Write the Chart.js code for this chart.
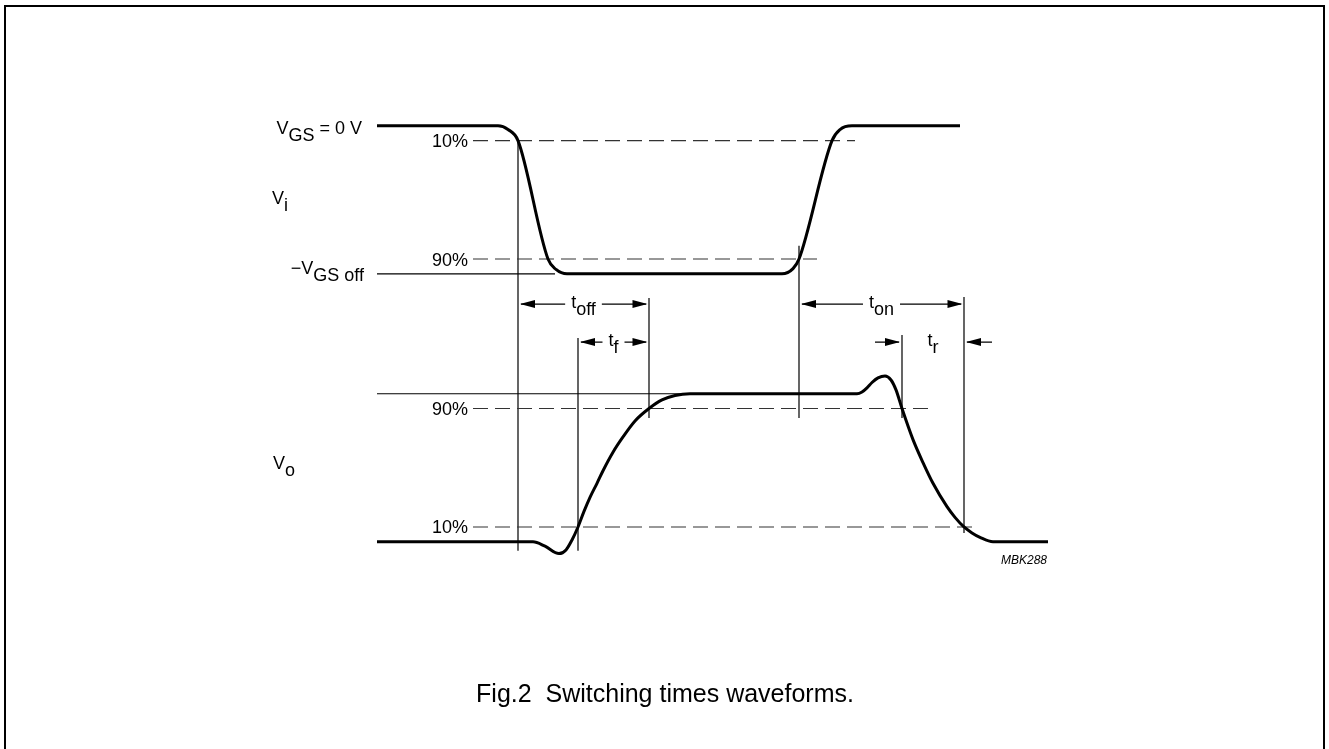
<!DOCTYPE html>
<html>
<head>
<meta charset="utf-8">
<title>Switching times waveforms</title>
<script src="https://cdn.jsdelivr.net/npm/chart.js@4.4.1/dist/chart.umd.min.js"></script>
<style>
    html, body { margin: 0; padding: 0; background: #fff; }
    #wrap { width: 1329px; height: 749px; }
</style>
</head>
<body>
<div id="wrap"><canvas id="myChart" width="1329" height="749"></canvas></div>
<script>
// time axis (arbitrary units) and level axis (fraction of swing)
const X_MIN = -38, X_MAX = 94.9;
const Y_MIN = -1.4, Y_MAX = 3.66;
const VI_OFFSET = 1.81;   // V_i trace sits above V_o

// input V_i : 1 = V_GS = 0 V, 0 = -V_GS off
const viTime  = [-0.3, 11.8, 12.8, 13.8, 16.8, 17.6, 18.7, 40.2, 41.3, 41.9, 45.2, 46.0, 47.2, 58.0];
const viLevel = [1, 1, 0.975, 0.9, 0.1, 0.03, 0, 0, 0.035, 0.1, 0.9, 0.975, 1, 1];

// output V_o : 0 = low, 1 = high
const voTime  = [-0.3, 15.3, 16.5, 17.9, 18.6, 19.2, 19.8, 20.4, 21.0, 21.7, 22.3, 23.3, 24.3,
                 25.5, 26.9, 28.2, 29.5, 31.0,
                 47.7, 48.2, 48.7, 49.2, 49.8, 50.5, 51.1, 51.6, 52.2,
                 53.3, 54.3, 55.3, 56.7, 57.5, 58.4, 59.2, 60.0, 61.3, 66.8];
const voLevel = [0, 0, -0.03, -0.08, -0.055, 0.012, 0.1, 0.205, 0.3, 0.395, 0.48, 0.605, 0.708,
                 0.816, 0.9, 0.958, 0.988, 1,
                 1, 1.012, 1.04, 1.076, 1.107, 1.12, 1.093, 1.026, 0.9,
                 0.69, 0.535, 0.395, 0.237, 0.165, 0.1, 0.06, 0.03, 0, 0];

// switching instants
const tOffStart = 13.8, tFStart = 19.8, tOffEnd = 26.9;
const tOnStart = 41.9, tRStart = 52.2, tOnEnd = 58.4;

const FONT = '"Liberation Sans", Arial, Helvetica, sans-serif';
const toXY = (ts, ls, off) => ts.map((t, i) => ({ x: t, y: ls[i] + off }));

const seg = (x0, y0, x1, y1, dashed) => ({
    data: [{ x: x0, y: y0 }, { x: x1, y: y1 }],
    showLine: true,
    borderColor: dashed ? "#333" : "#000",
    borderWidth: dashed ? 1.1 : 1.2,
    borderDash: dashed ? [15, 7] : [],
    pointRadius: 0,
    tension: 0
});

const datasets = [
    {
        data: toXY(viTime, viLevel, VI_OFFSET),
        showLine: true, borderColor: "#000", borderWidth: 3,
        pointRadius: 0, cubicInterpolationMode: "monotone"
    },
    {
        data: toXY(voTime, voLevel, 0),
        showLine: true, borderColor: "#000", borderWidth: 3,
        pointRadius: 0, cubicInterpolationMode: "monotone"
    },
    // 10 % / 90 % levels
    seg(9.3, VI_OFFSET + 0.9, 47.5, VI_OFFSET + 0.9, true),
    seg(9.3, VI_OFFSET + 0.1, 43.7, VI_OFFSET + 0.1, true),
    seg(9.3, 0.9, 54.8, 0.9, true),
    seg(9.3, 0.1, 59.3, 0.1, true),
    // reference levels
    seg(-0.3, VI_OFFSET, 17.5, VI_OFFSET),
    seg(-0.3, 1, 30.3, 1),
    // timing markers
    seg(tOffStart, VI_OFFSET + 0.9, tOffStart, -0.06),
    seg(tFStart, 1.377, tFStart, -0.06),
    seg(tOffEnd, 1.647, tOffEnd, 0.836),
    seg(tOnStart, 2.0, tOnStart, 0.836),
    seg(tRStart, 1.397, tRStart, 0.836),
    seg(tOnEnd, 1.654, tOnEnd, 0.059)
];

const ARROW_HI = 1.606, ARROW_LO = 1.349;
const measures = [
    { a: tOffStart, b: tOffEnd, y: ARROW_HI, main: "t", sub: "off" },
    { a: tFStart, b: tOffEnd, y: ARROW_LO, main: "t", sub: "f" },
    { a: tOnStart, b: tOnEnd, y: ARROW_HI, main: "t", sub: "on" },
    { a: tRStart, b: tOnEnd, y: ARROW_LO, main: "t", sub: "r", outside: true }
];

function subText(ctx, parts, x, y, align, size, subDy) {
    ctx.font = size + "px " + FONT;
    const w = parts.reduce((s, p) => s + ctx.measureText(p[0]).width, 0);
    let cx = align === "right" ? x - w : align === "center" ? x - w / 2 : x;
    ctx.textAlign = "left";
    ctx.textBaseline = "alphabetic";
    parts.forEach(p => {
        ctx.fillText(p[0], cx, p[1] ? y + subDy : y);
        cx += ctx.measureText(p[0]).width;
    });
    return w;
}

function head(ctx, tip, y, dir) {
    ctx.beginPath();
    ctx.moveTo(tip, y);
    ctx.lineTo(tip - dir * 15, y - 4);
    ctx.lineTo(tip - dir * 15, y + 4);
    ctx.closePath();
    ctx.fill();
}

const decor = {
    id: "decor",
    afterDatasetsDraw(chart) {
        const ctx = chart.ctx, xs = chart.scales.x, ys = chart.scales.y;
        const px = v => xs.getPixelForValue(v), py = v => ys.getPixelForValue(v);
        ctx.save();
        ctx.fillStyle = "#000";
        ctx.strokeStyle = "#000";

        // frame
        ctx.lineWidth = 2;
        ctx.strokeRect(5, 6, 1319, 770);

        // level labels
        const lx = px(8.8);
        [[VI_OFFSET + 0.9, "10%"], [VI_OFFSET + 0.1, "90%"], [0.9, "90%"], [0.1, "10%"]].forEach(l => {
            subText(ctx, [[l[1]]], lx, py(l[0]) + 6.5, "right", 18, 0);
        });

        // signal labels
        subText(ctx, [["V"], ["GS", 1], [" = 0 V"]], px(-1.8), py(VI_OFFSET + 1) + 8, "right", 18, 7);
        subText(ctx, [["\u2212V"], ["GS off", 1]], px(-1.6), py(VI_OFFSET) + 0.5, "right", 18, 7);
        subText(ctx, [["V"], ["i", 1]], px(-10.8), py(VI_OFFSET + 0.47), "left", 18, 7);
        subText(ctx, [["V"], ["o", 1]], px(-10.7), py(0.49), "left", 18, 7);

        // timing arrows
        ctx.lineWidth = 1.2;
        measures.forEach(m => {
            const xa = px(m.a), xb = px(m.b), y = py(m.y), mid = (xa + xb) / 2;
            ctx.font = "18px " + FONT;
            const w = ctx.measureText(m.main).width + ctx.measureText(m.sub).width;
            subText(ctx, [[m.main], [m.sub, 1]], mid, y + 4, "center", 18, 7);
            ctx.beginPath();
            if (m.outside) {
                ctx.moveTo(xa - 27, y); ctx.lineTo(xa - 3, y);
                ctx.moveTo(xb + 28, y); ctx.lineTo(xb + 3, y);
                ctx.stroke();
                head(ctx, xa - 2, y, 1);
                head(ctx, xb + 2, y, -1);
            } else {
                ctx.moveTo(xa + 3, y); ctx.lineTo(mid - w / 2 - 6, y);
                ctx.moveTo(mid + w / 2 + 6, y); ctx.lineTo(xb - 3, y);
                ctx.stroke();
                head(ctx, xa + 2, y, -1);
                head(ctx, xb - 1.5, y, 1);
            }
        });

        // figure code and caption
        ctx.font = "italic 12px " + FONT;
        ctx.textAlign = "right";
        ctx.fillText("MBK288", 1047, 564);
        ctx.font = "25px " + FONT;
        ctx.textAlign = "center";
        ctx.fillText("Fig.2  Switching times waveforms.", 665, 702);
        ctx.restore();
    }
};

new Chart(document.getElementById("myChart").getContext("2d"), {
    type: "scatter",
    data: { datasets: datasets },
    options: {
        responsive: false,
        animation: false,
        devicePixelRatio: 1,
        events: [],
        layout: { padding: 0 },
        plugins: { legend: { display: false }, tooltip: { enabled: false } },
        scales: {
            x: { type: "linear", min: X_MIN, max: X_MAX, display: false },
            y: { type: "linear", min: Y_MIN, max: Y_MAX, display: false }
        }
    },
    plugins: [decor]
});
</script>
</body>
</html>
